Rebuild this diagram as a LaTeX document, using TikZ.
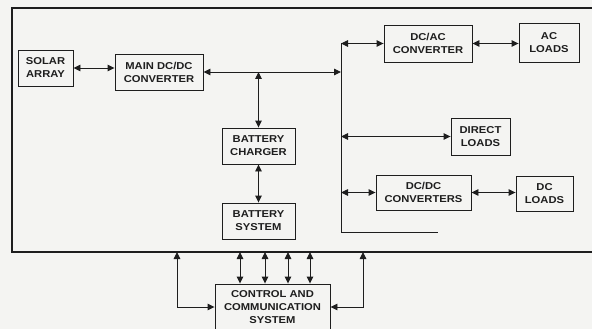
\documentclass[tikz,border=0pt]{standalone}
\usepackage{fontspec}
\setmainfont{Liberation Sans}[FakeStretch=1.12]
\usetikzlibrary{arrows.meta}
\definecolor{paper}{RGB}{244,244,242}
\definecolor{ink}{RGB}{30,30,30}

\begin{document}
\begin{tikzpicture}[x=1pt, y=-1pt,
    blk/.style={draw=ink, line width=0.9pt, inner sep=0pt, font=\fontsize{10}{13}\selectfont\bfseries, align=center, text=ink},
    link/.style={draw=ink, line width=0.9pt},
    >={Triangle[length=7pt,width=6.5pt]}
]
\fill[paper] (0,0) rectangle (592,329);
\useasboundingbox (0,0) rectangle (592,329);
% outer frame
\coordinate (fnw) at (12,8);
\coordinate (fsw) at (12,252);
\draw[ink, line width=1.5pt] (592,8) -- (fnw) -- (fsw) -- (592,252);

\node[blk, minimum width=55pt, minimum height=36pt] (solar) at (45.5,68) {SOLAR\\ARRAY};
\node[blk, minimum width=88pt, minimum height=36pt] (maindc) at (159,72) {MAIN DC/DC\\CONVERTER};
\node[blk, minimum width=73pt, minimum height=36pt] (charger) at (258.5,146) {BATTERY\\CHARGER};
\node[blk, minimum width=73pt, minimum height=36pt] (battery) at (258.5,221) {BATTERY\\SYSTEM};
\node[blk, minimum width=88pt, minimum height=37pt] (dcac) at (428,43.5) {DC/AC\\CONVERTER};
\node[blk, minimum width=60pt, minimum height=39pt] (acloads) at (549,42.5) {AC\\LOADS};
\node[blk, minimum width=59pt, minimum height=37pt] (direct) at (480.5,136.5) {DIRECT\\LOADS};
\node[blk, minimum width=95pt, minimum height=35pt] (dcdc) at (423.5,192.5) {DC/DC\\CONVERTERS};
\node[blk, minimum width=57pt, minimum height=35pt] (dcloads) at (544.5,193.5) {DC\\LOADS};
\node[blk, minimum width=115pt, minimum height=46pt] (control) at (272.5,307) {CONTROL AND\\COMMUNICATION\\SYSTEM};

% distribution bus
\coordinate (bustop) at (341,43);
\coordinate (busbot) at (341,232);
\coordinate (busend) at (438,232);
\draw[link, line width=0.7pt] (bustop) -- (busbot) -- (busend);

\draw[link, <->] (solar.east) -- (maindc.west |- solar.east);
\draw[link, <->] (maindc.east) -- (maindc.east -| bustop);
\draw[link, <->] (charger.north) -- (charger.north |- maindc.east);
\draw[link, <->] (charger.south) -- (battery.north);
\draw[link, <->] (dcac.west -| bustop) -- (dcac.west);
\draw[link, <->] (dcac.east) -- (acloads.west |- dcac.east);
\draw[link, <->] (direct.west -| bustop) -- (direct.west);
\draw[link, <->] (dcdc.west -| bustop) -- (dcdc.west);
\draw[link, <->] (dcdc.east) -- (dcloads.west |- dcdc.east);

% control links
\foreach \d in {-32.5,-7.5,15.5,37.5}
  \draw[link, <->] ([xshift=\d pt]control.north) -- ([xshift=\d pt]control.north |- fsw);
\coordinate (cl) at (177,252);
\coordinate (cr) at (363,252);
\draw[link, <->] (cl) |- (control.west);
\draw[link, <->] (control.east) -| (cr);
\end{tikzpicture}
\end{document}
